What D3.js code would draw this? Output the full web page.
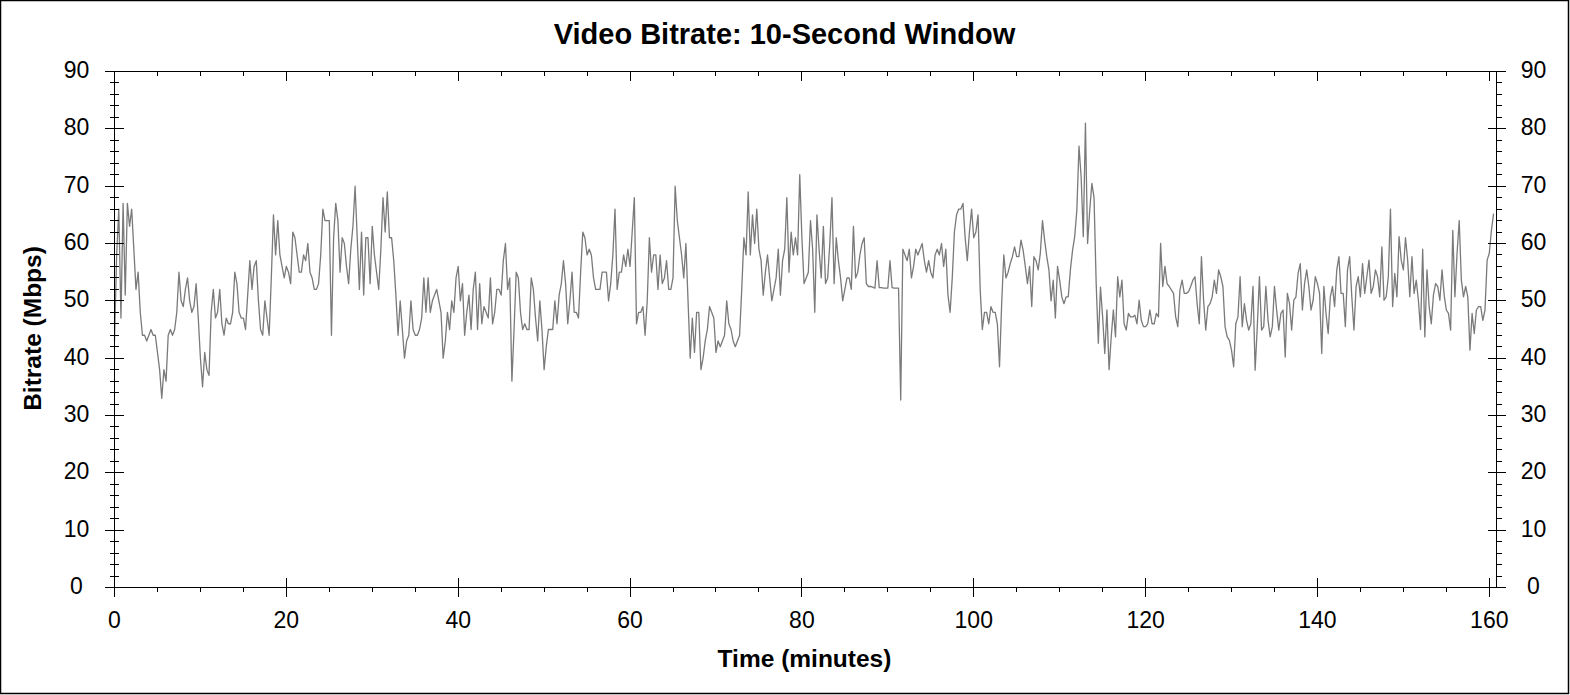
<!DOCTYPE html>
<meta charset="utf-8">
<body style="margin:0;background:#fff">
<svg id="chart"></svg>
<script src="https://d3js.org/d3.v7.min.js"></script>
<script>
// one sample every quarter minute (10-second window average)
var STEP = 0.25;

var rate000 = [43,58,66,47,67,51,67,63,66,59, 52,55,48,44,44,43,44,45,44,44,
               41,38,33,38,36,44,45,44,45,48, 55,50,49,52,54,50,48,49,53,47,
               40,35,41,38,37,48,52,47,48,52, 46,44,47,46,46,48,55,53,48,47,
               47,45,51,57,52,56,57,50,45,44, 50,47,44,54,65,58,64,58,56,54];
var rate020 = [56,55,53,62,61,58,55,55,58,57, 60,55,54,52,52,53,58,66,64,64,
               64,44,61,67,64,55,61,60,56,53, 59,63,70,61,52,62,51,61,61,53,
               63,58,55,52,59,68,62,69,61,61, 57,51,44,50,45,40,43,44,50,45,
               44,44,45,47,54,48,54,48,50,51, 52,50,48,40,43,48,45,50,48,54];
var rate040 = [56,50,53,44,48,51,45,52,55,45, 53,46,49,48,47,54,46,48,52,52,
               51,57,60,52,54,36,45,55,54,48, 45,46,45,45,54,52,47,43,50,45,
               38,42,45,45,45,50,46,51,53,57, 53,46,50,55,48,48,47,55,62,61,
               58,59,58,54,52,52,52,55,55,55, 50,53,58,66,52,55,55,58,56,59];
var rate060 = [56,62,68,46,48,48,49,44,50,61, 55,58,58,52,58,53,54,57,52,52,
               54,70,64,61,58,54,60,50,40,47, 41,48,48,38,40,43,45,49,48,47,
               41,43,42,43,44,50,46,45,43,42, 43,44,52,61,58,69,58,65,60,66,
               59,57,51,55,58,54,50,52,54,59, 51,57,59,68,55,62,58,61,58,72];
var rate080 = [61,53,54,55,64,59,48,65,59,54, 63,53,54,60,68,53,61,57,54,50,
               52,54,54,52,63,54,55,58,60,61, 53,52.5,52.5,52.4,52.2,57,52.3,52.3,52.2,52.2,
               52.2,57,52.3,52.2,52.2,52.2,32.7,59,58,57, 59,54,56,59,58,59,60,57,55,57,
               55,54,58,59,58,60,56,59,51,48, 54,62,65,66,66,67,61,57,62,66];
var rate100 = [61,62,65,52,45,48,48,46,49,48, 48,46,38.5,49.5,58,54,55,56.5,57.7,59.4,
               57.7,57.7,60.6,58.8,56,53,56,49,57.7,57, 55.4,58.3,64,60.6,57.7,55.4,50,53.6,47,56,
               53.6,50.7,49.5,50.7,50.7,55.4,58.8,61.2,65.8,77, 71.6,61.2,81,60,65.8,70.5,68,53,42.6,52.4,
               47.2,40.8,48.4,38,43.7,48.4,43.7,54.2,50.7,53.6, 46,44.9,47.8,47.2,47.2,47.5,46,50.1,46.6,45.5];
var rate120 = [45.5,46,48.4,46,46,47.8,47.2,60,52.5,56, 53,52.5,51.9,51.3,47.2,45.5,51.9,53.6,51.3,51.3,
               51.6,52.5,53.6,54.2,49.5,46,57.7,50.1,44.9,49, 49.5,50.7,53.6,51.3,55.4,54.2,52.5,45.5,43.7,43.1,
               41.4,38.5,46,47.2,54.2,45.5,49.5,46.6,44.9,46, 52.5,37.9,45.5,54.2,44.9,45.5,52.5,46.6,43.7,45.5,
               52.5,48.4,44.9,47.8,48.4,40.2,51.3,49.5,44.9,50.1, 50.7,54.8,56.5,48.4,53,55.4,52.5,48.4,50.1,54.2];
var rate140 = [53,51.3,40.8,52.5,47.8,44.3,50.7,52.5,49,55.4, 57.7,51.3,51.3,45.5,55.4,57.7,50.7,44.9,52.5,54.2,
               50.7,56.5,51.3,54.2,57.1,51.3,52.5,55.4,54.2,50.7, 59.4,50.1,50.7,54.2,66,49,54.8,50.7,61.2,57.1,
               55.4,61,57.1,50.7,57.7,51.3,53.6,50.1,45,59, 43.7,55.4,49,46,51,53,52.5,50.1,55.4,51,
               48.4,47.8,44.9,62.3,50.7,58.3,64,53.6,50.7,52.5, 50.7,41.4,47.8,44.3,48.4,49,49,46.6,48.4,57.1,
               58.3,62.3,65.2];

var yMajor = [0,10,20,30,40,50,60,70,80,90];
var xMajor = [0,20,40,60,80,100,120,140,160];

var bitrate = [].concat(rate000, rate020, rate040, rate060, rate080, rate100, rate120, rate140);

var width = 1570,
    height = 695;
var plot = {left: 114.5, right: 1496.5, top: 71.5, bottom: 587.5};
var font = "'Liberation Sans', Arial, sans-serif";

var x = d3.scaleLinear().domain([0, 160.84]).range([plot.left, plot.right]);
var y = d3.scaleLinear().domain([0, 90]).range([plot.bottom, plot.top]);

var svg = d3.select("#chart")
    .attr("width", width)
    .attr("height", height)
    .style("display", "block");

svg.append("rect")
    .attr("x", 0).attr("y", 0).attr("width", width).attr("height", height)
    .attr("fill", "#fff");

// outer frame
svg.append("rect")
    .attr("x", 0.5).attr("y", 0.5).attr("width", 1568).attr("height", 693)
    .attr("fill", "none").attr("stroke", "#000").attr("stroke-width", 1.5);

// data line
var line = d3.line()
    .x(function(d, i) { return x(i * STEP); })
    .y(function(d) { return y(d); });

svg.append("path")
    .datum(bitrate)
    .attr("d", line)
    .attr("fill", "none")
    .attr("stroke", "#7a7a7a")
    .attr("stroke-width", 1.3)
    .attr("stroke-linejoin", "round");

// axes frame
var axes = svg.append("g")
    .attr("stroke", "#000")
    .attr("stroke-width", 1)
    .attr("shape-rendering", "crispEdges");

axes.append("rect")
    .attr("x", plot.left).attr("y", plot.top)
    .attr("width", plot.right - plot.left).attr("height", plot.bottom - plot.top)
    .attr("fill", "none");

var yMinor = d3.range(0, 91, 2).filter(function(v) { return v % 10 !== 0; });
var xMinor = d3.range(0, 161, 5).filter(function(v) { return v % 20 !== 0; });

// left axis ticks straddle the line, right axis minor ticks point outward
yMajor.forEach(function(v) {
  axes.append("line").attr("x1", plot.left - 9.5).attr("x2", plot.left + 9.5)
      .attr("y1", y(v)).attr("y2", y(v));
  axes.append("line").attr("x1", plot.right - 9).attr("x2", plot.right + 9.5)
      .attr("y1", y(v)).attr("y2", y(v));
});
yMinor.forEach(function(v) {
  axes.append("line").attr("x1", plot.left - 4.5).attr("x2", plot.left + 4.5)
      .attr("y1", y(v)).attr("y2", y(v));
  axes.append("line").attr("x1", plot.right).attr("x2", plot.right + 5.5)
      .attr("y1", y(v)).attr("y2", y(v));
});

// bottom ticks: majors straddle, minors outward; top ticks point inward
xMajor.forEach(function(v) {
  axes.append("line").attr("x1", x(v)).attr("x2", x(v))
      .attr("y1", plot.bottom - 9.5).attr("y2", plot.bottom + 9.5);
  axes.append("line").attr("x1", x(v)).attr("x2", x(v))
      .attr("y1", plot.top).attr("y2", plot.top + 9);
});
xMinor.forEach(function(v) {
  axes.append("line").attr("x1", x(v)).attr("x2", x(v))
      .attr("y1", plot.bottom).attr("y2", plot.bottom + 4);
  axes.append("line").attr("x1", x(v)).attr("x2", x(v))
      .attr("y1", plot.top).attr("y2", plot.top + 4.5);
});

// tick labels
var labels = svg.append("g")
    .attr("font-family", font)
    .attr("font-size", 23)
    .attr("fill", "#000")
    .attr("text-anchor", "middle");

yMajor.forEach(function(v) {
  labels.append("text").attr("x", 76.5).attr("y", y(v) + 6.5).text(v);
  labels.append("text").attr("x", 1533.5).attr("y", y(v) + 6.5).text(v);
});
xMajor.forEach(function(v) {
  labels.append("text").attr("x", x(v)).attr("y", 628).text(v);
});

// titles
svg.append("text")
    .attr("x", 784.5).attr("y", 44.3)
    .attr("text-anchor", "middle")
    .attr("font-family", font).attr("font-size", 29).attr("font-weight", "bold")
    .text("Video Bitrate: 10-Second Window");

svg.append("text")
    .attr("x", (plot.left + plot.right) / 2 - 1).attr("y", 667)
    .attr("text-anchor", "middle")
    .attr("font-family", font).attr("font-size", 24.5).attr("font-weight", "bold")
    .text("Time (minutes)");

svg.append("text")
    .attr("transform", "translate(40.5," + ((plot.top + plot.bottom) / 2 - 1) + ") rotate(-90)")
    .attr("text-anchor", "middle")
    .attr("font-family", font).attr("font-size", 24.5).attr("font-weight", "bold")
    .text("Bitrate (Mbps)");
</script>
